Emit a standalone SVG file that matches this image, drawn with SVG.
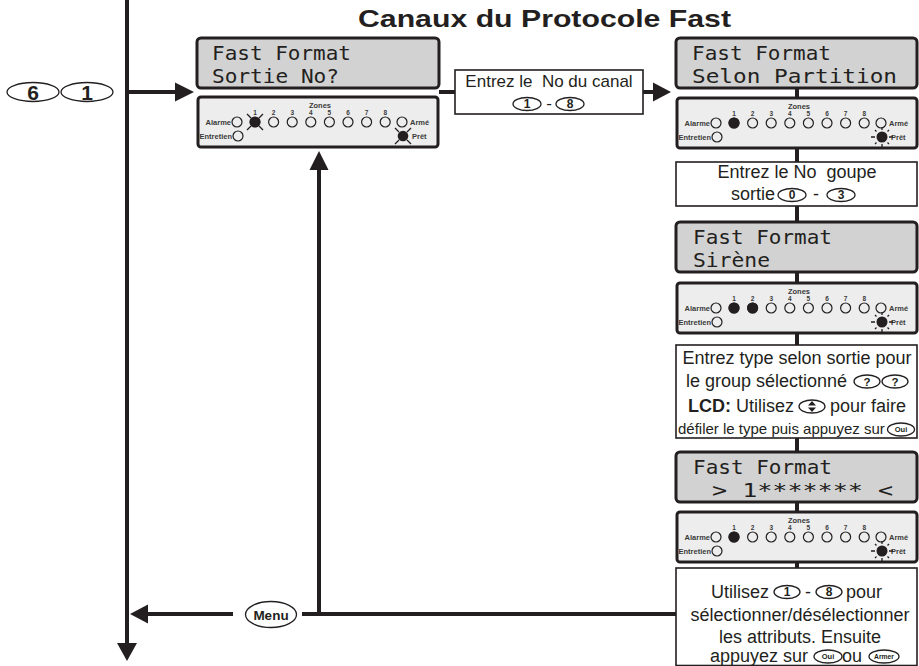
<svg xmlns="http://www.w3.org/2000/svg" width="919" height="666" viewBox="0 0 919 666">
<style>
.lcd{fill:#d2d2d2;stroke:#231f20;stroke-width:3}
.pnl{fill:#ededed;stroke:#231f20;stroke-width:3}
.box{fill:#fff;stroke:#231f20;stroke-width:1.6}
.lt{font-family:"DejaVu Sans Mono","Liberation Mono",monospace;font-size:19.5px;fill:#231f20}
.t{font-family:"Liberation Sans",Arial,sans-serif;font-size:18px;fill:#231f20}
.tb{font-family:"Liberation Sans",Arial,sans-serif;font-weight:bold;fill:#231f20}
.conn{stroke:#231f20;stroke-width:4;fill:none}
.ah{fill:#231f20}
.led{fill:none;stroke:#231f20;stroke-width:1.2}
.on{fill:#231f20}
.ray{stroke:#231f20;stroke-width:1.3}
.lb{font-family:"Liberation Sans",Arial,sans-serif;font-size:7.5px;font-weight:bold;fill:#3a3a3a}
.zn{font-family:"Liberation Sans",Arial,sans-serif;font-size:6.5px;font-weight:bold;fill:#3a3a3a;text-anchor:middle}
.key{fill:#fff;stroke:#231f20;stroke-width:1.3}
.kt{font-family:"Liberation Sans",Arial,sans-serif;font-weight:bold;fill:#231f20;text-anchor:middle}
</style>
<defs>
<g id="panelBase">
<rect class="pnl" x="0" y="0" width="240" height="50" rx="3"/>
<text class="zn" x="122" y="10.5" style="font-size:7.5px">Zones</text>
<text class="zn" x="57" y="17.5">1</text>
<text class="zn" x="75.6" y="17.5">2</text>
<text class="zn" x="94.2" y="17.5">3</text>
<text class="zn" x="112.8" y="17.5">4</text>
<text class="zn" x="131.4" y="17.5">5</text>
<text class="zn" x="150" y="17.5">6</text>
<text class="zn" x="168.6" y="17.5">7</text>
<text class="zn" x="187.2" y="17.5">8</text>
<circle class="led" cx="39" cy="25" r="5"/>
<circle class="led" cx="57" cy="25" r="5"/>
<circle class="led" cx="75.6" cy="25" r="5"/>
<circle class="led" cx="94.2" cy="25" r="5"/>
<circle class="led" cx="112.8" cy="25" r="5"/>
<circle class="led" cx="131.4" cy="25" r="5"/>
<circle class="led" cx="150" cy="25" r="5"/>
<circle class="led" cx="168.6" cy="25" r="5"/>
<circle class="led" cx="187.2" cy="25" r="5"/>
<circle class="led" cx="204" cy="25" r="5"/>
<circle class="led" cx="40" cy="39" r="5"/>
<text class="lb" x="33" y="27.8" text-anchor="end">Alarme</text>
<text class="lb" x="212" y="27.8">Armé</text>
<text class="lb" x="34" y="41.8" text-anchor="end">Entretien</text>
<text class="lb" x="214" y="41.8">Prêt</text>
</g>
<g id="flash">
<circle class="on" cx="0" cy="0" r="5.3"/>
<path class="ray" d="M-4,-4L-8,-8M4,-4L8,-8M-4,4L-8,8M4,4L8,8"/>
</g>
<g id="steady">
<circle class="on" cx="0" cy="0" r="5.5"/>
<path class="ray" d="M-7,0H-11M7,0H11M0,-7V-10M0,7V10M-5.5,-5.5L-7,-7M5.5,-5.5L7,-7M-5.5,5.5L-7,7M5.5,5.5L7,7"/>
</g>
</defs>

<text class="tb" x="544.5" y="27" style="font-size:24px" text-anchor="middle" textLength="373" lengthAdjust="spacingAndGlyphs">Canaux du Protocole Fast</text>

<g id="connectors">
<line class="conn" x1="127" y1="0" x2="127" y2="645"/>
<polygon class="ah" points="117,643 137,643 127,661"/>
<line class="conn" x1="127" y1="92" x2="177" y2="92"/>
<polygon class="ah" points="175,82.5 175,101.5 194,92"/>
<line class="conn" x1="439" y1="92" x2="455" y2="92"/>
<line class="conn" x1="643" y1="92" x2="655" y2="92"/>
<polygon class="ah" points="653,82.5 653,101.5 671,92"/>
<line class="conn" x1="797" y1="88" x2="797" y2="98"/>
<line class="conn" x1="797" y1="148" x2="797" y2="162"/>
<line class="conn" x1="797" y1="206" x2="797" y2="222"/>
<line class="conn" x1="797" y1="272" x2="797" y2="283"/>
<line class="conn" x1="797" y1="333" x2="797" y2="345"/>
<line class="conn" x1="797" y1="438" x2="797" y2="452"/>
<line class="conn" x1="797" y1="502" x2="797" y2="512"/>
<line class="conn" x1="797" y1="562" x2="797" y2="568"/>
<line class="conn" x1="676" y1="614" x2="302" y2="614"/>
<line class="conn" x1="319" y1="614" x2="319" y2="168"/>
<polygon class="ah" points="309.5,170 328.5,170 319,151"/>
<line class="conn" x1="233" y1="614" x2="146" y2="614"/>
<polygon class="ah" points="148,604.5 148,623.5 130,614"/>
</g>

<g id="keys-6-1">
<ellipse class="key" cx="33" cy="92" rx="26" ry="9.5"/>
<text class="kt" x="33" y="99.5" font-size="21">6</text>
<ellipse class="key" cx="87" cy="92" rx="26" ry="9.5"/>
<text class="kt" x="87" y="99.5" font-size="21">1</text>
</g>

<g id="lcd1">
<rect class="lcd" x="197" y="38" width="242" height="50" rx="4"/>
<text class="lt" x="212" y="60" textLength="139" lengthAdjust="spacingAndGlyphs">Fast Format</text>
<text class="lt" x="212" y="83" textLength="127" lengthAdjust="spacingAndGlyphs">Sortie No?</text>
</g>
<g id="panel1" transform="translate(198,97)">
<use href="#panelBase"/>
<use href="#flash" x="57" y="25"/>
<use href="#flash" x="205" y="39"/>
</g>

<g id="box1">
<rect class="box" x="455" y="70" width="188" height="44"/>
<text class="t" x="549" y="87" text-anchor="middle" style="font-size:17px" xml:space="preserve">Entrez le  No du canal</text>
<ellipse class="key" cx="527" cy="104" rx="14" ry="6.5"/>
<text class="kt" x="527" y="108.2" font-size="12">1</text>
<text class="t" x="549" y="109" text-anchor="middle" style="font-size:17px">-</text>
<ellipse class="key" cx="570" cy="104" rx="14" ry="6.5"/>
<text class="kt" x="570" y="108.2" font-size="12">8</text>
</g>

<g id="lcd2">
<rect class="lcd" x="676" y="38" width="241" height="50" rx="4"/>
<text class="lt" x="692" y="60" textLength="139" lengthAdjust="spacingAndGlyphs">Fast Format</text>
<text class="lt" x="692" y="83" textLength="205" lengthAdjust="spacingAndGlyphs">Selon Partition</text>
</g>
<g id="panel2" transform="translate(677,98)">
<use href="#panelBase"/>
<circle class="on" cx="57" cy="25" r="5.5"/>
<use href="#steady" x="205" y="39"/>
</g>

<g id="box2">
<rect class="box" x="676" y="162" width="241" height="44"/>
<text class="t" x="797" y="178" text-anchor="middle" xml:space="preserve">Entrez le No  goupe</text>
<text class="t" x="775" y="200" text-anchor="end">sortie</text>
<ellipse class="key" cx="792" cy="195" rx="14" ry="6.5"/>
<text class="kt" x="792" y="199.2" font-size="12">0</text>
<text class="t" x="816" y="200" text-anchor="middle">-</text>
<ellipse class="key" cx="841" cy="195" rx="14" ry="6.5"/>
<text class="kt" x="841" y="199.2" font-size="12">3</text>
</g>

<g id="lcd3">
<rect class="lcd" x="676" y="222" width="241" height="50" rx="4"/>
<text class="lt" x="693" y="244" textLength="139" lengthAdjust="spacingAndGlyphs">Fast Format</text>
<text class="lt" x="693" y="267" textLength="77" lengthAdjust="spacingAndGlyphs">Sirène</text>
</g>
<g id="panel3" transform="translate(677,283)">
<use href="#panelBase"/>
<circle class="on" cx="57" cy="25" r="5.5"/>
<circle class="on" cx="75.6" cy="25" r="5.5"/>
<use href="#steady" x="205" y="39"/>
</g>

<g id="box3">
<rect class="box" x="676" y="345" width="241" height="93"/>
<text class="t" x="797" y="364" text-anchor="middle">Entrez type selon sortie pour</text>
<text class="t" x="686" y="387">le group sélectionné</text>
<ellipse class="key" cx="867" cy="381.5" rx="13" ry="6.5"/>
<text class="kt" x="867" y="385.7" font-size="11.5">?</text>
<ellipse class="key" cx="895" cy="381.5" rx="13" ry="6.5"/>
<text class="kt" x="895" y="385.7" font-size="11.5">?</text>
<text class="t" x="688" y="412"><tspan font-weight="bold">LCD:</tspan> Utilisez</text>
<ellipse class="key" cx="812" cy="406.5" rx="13" ry="6.5"/>
<path class="ah" d="M808,405.5h8l-4,-4.5zM808,407.5h8l-4,4.5z"/>
<text class="t" x="830" y="412">pour faire</text>
<text class="t" x="678" y="434" style="font-size:15px">défiler le type puis appuyez sur</text>
<ellipse class="key" cx="901" cy="429.5" rx="13.5" ry="6.5"/>
<text class="kt" x="901" y="432.3" font-size="7.5">Oui</text>
</g>

<g id="lcd4">
<rect class="lcd" x="676" y="452" width="241" height="50" rx="4"/>
<text class="lt" x="693" y="474" textLength="139" lengthAdjust="spacingAndGlyphs">Fast Format</text>
<text class="lt" x="712" y="497" textLength="181" lengthAdjust="spacingAndGlyphs" xml:space="preserve">&gt; 1******* &lt;</text>
</g>
<g id="panel4" transform="translate(677,512)">
<use href="#panelBase"/>
<circle class="on" cx="57" cy="25" r="5.5"/>
<use href="#steady" x="205" y="39"/>
</g>

<g id="box5">
<rect class="box" x="676" y="568" width="241" height="97.5"/>
<text class="t" x="711" y="598">Utilisez</text>
<ellipse class="key" cx="787" cy="592" rx="13" ry="6.5"/>
<text class="kt" x="787" y="596.2" font-size="12">1</text>
<text class="t" x="808" y="598" text-anchor="middle">-</text>
<ellipse class="key" cx="829" cy="592" rx="13" ry="6.5"/>
<text class="kt" x="829" y="596.2" font-size="12">8</text>
<text class="t" x="846" y="598">pour</text>
<text class="t" x="800" y="621" text-anchor="middle">sélectionner/désélectionner</text>
<text class="t" x="800" y="643" text-anchor="middle">les attributs. Ensuite</text>
<text class="t" x="710" y="662">appuyez sur</text>
<ellipse class="key" cx="828" cy="656.5" rx="14" ry="6.5"/>
<text class="kt" x="828" y="659.3" font-size="7.5">Oui</text>
<text class="t" x="842" y="662">ou</text>
<ellipse class="key" cx="884" cy="656.5" rx="15" ry="6.5"/>
<text class="kt" x="884" y="659" font-size="6.8">Armer</text>
</g>

<g id="menu-key">
<ellipse class="key" cx="271" cy="614.5" rx="25.5" ry="13"/>
<text class="kt" x="271" y="619.5" font-size="13.5">Menu</text>
</g>
</svg>
